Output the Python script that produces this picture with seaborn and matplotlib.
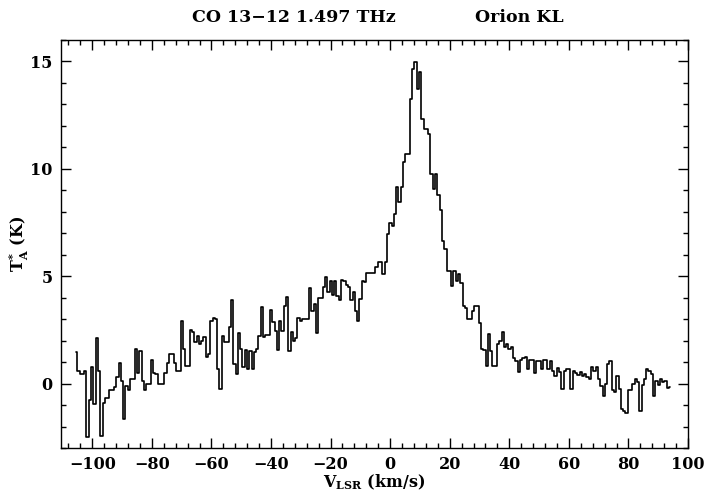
import numpy as np
import pandas as pd
import matplotlib
matplotlib.use("Agg")
import matplotlib.pyplot as plt
from matplotlib.ticker import MultipleLocator
import seaborn as sns

# ---- data ----
v_start = -105.8      # left edge of first channel, km/s
chan_width = 0.77     # km/s

ta_part1 = [1.46, 0.6, 0.45, 0.45, 0.6, -2.5, -0.75, 0.76, -0.93, 2.14,
            0.6, -2.42, -0.9, -0.68, -0.68, -0.3, -0.3, -0.17, 0.3, 0.95,
            0.14, -1.65, -0.1, -0.3, 0.22, 0.22, 1.6, 0.5, 1.5, 0.14,
            -0.3, 0.0, 0.0, 1.1, 0.5, 0.45, 0.0, 0.0, 0.0, 0.5,
            0.95, 1.36, 1.36, 0.95, 0.58, 0.58, 2.9, 1.6, 0.8, 0.8]
ta_part2 = [2.5, 2.39, 1.92, 2.2, 1.85, 2.0, 2.15, 1.26, 1.4, 2.93,
            3.04, 3.0, 0.68, -0.25, 2.2, 1.95, 1.95, 2.65, 3.9, 0.92,
            0.45, 2.36, 1.6, 0.76, 1.55, 0.68, 1.5, 0.68, 1.45, 1.6,
            2.2, 3.55, 2.15, 2.25, 2.25, 3.43, 2.85, 2.47, 1.55, 2.93,
            2.47, 3.63, 4.02, 1.5, 2.4, 2.0, 2.1, 3.06, 2.93, 3.0,
            3.0]
ta_part3 = [3.0, 4.44, 3.4, 3.7, 2.34, 4.0, 4.0, 4.52, 4.95, 4.25,
            4.8, 4.13, 4.76, 4.1, 3.9, 4.83, 4.76, 4.6, 4.52, 3.9,
            4.25, 3.4, 2.9, 3.95, 4.8, 4.73, 5.14, 5.14, 5.14, 5.14,
            5.42, 5.68, 5.68, 5.1, 5.68]
ta_peak = [6.97, 7.5, 7.36, 7.9, 9.14, 8.45, 9.14, 10.3, 10.7, 10.7,
           13.26, 14.66, 14.97, 13.7, 14.5, 12.3, 11.86, 11.86, 11.63, 9.77,
           9.07, 9.77, 8.8, 8.1, 6.66, 6.27, 5.26, 5.26, 4.56, 5.26,
           4.8, 5.1, 4.7]
ta_part4 = [3.6, 3.54, 3.0, 3.0, 3.4, 3.6, 3.6, 2.8, 1.6, 1.55,
            0.84, 2.3, 1.54, 0.84, 0.84, 1.85, 2.0, 2.42, 1.7, 1.85,
            1.6, 1.7, 1.2, 1.05, 0.53, 1.1, 1.2, 1.25, 0.7, 1.1,
            1.1, 0.47, 1.05, 1.05, 0.67, 1.1, 1.12, 0.67, 1.05, 0.6,
            0.33, 0.74, 0.55, -0.25, 0.6, 0.67, 0.7, -0.25, 0.6, 0.5]
ta_part5 = [0.4, 0.55, 0.36, 0.45, 0.3, 0.2, 0.79, 0.6, 0.79, 0.22,
            -0.12, -0.56, 0.0, 0.91, 1.07, -0.3, -0.4, 0.36, -0.25, -1.18,
            -1.26, -1.38, -0.3, -0.3, 0.0, 0.22, 0.07, -1.26, -0.08, 0.22,
            0.68, 0.6, 0.45, -0.56, 0.14, -0.08, 0.22, 0.07, 0.14, -0.2,
            -0.17]

ta = np.array(ta_part1 + ta_part2 + ta_part3 + ta_peak + ta_part4 + ta_part5)
vel = v_start + chan_width * (np.arange(len(ta)) + 0.5)
df = pd.DataFrame({"v": vel, "ta": ta})

x_ticks = [-100, -80, -60, -40, -20, 0, 20, 40, 60, 80, 100]
y_ticks = [0, 5, 10, 15]
title_left = "CO 13\u221212 1.497 THz"
title_right = "Orion KL"

# ---- style ----
sns.set_style("ticks")
plt.rcParams["font.family"] = ["DejaVu Serif"]
plt.rcParams["mathtext.fontset"] = "dejavuserif"
plt.rcParams["axes.unicode_minus"] = True
plt.rcParams["text.color"] = "black"
plt.rcParams["axes.labelcolor"] = "black"
plt.rcParams["xtick.color"] = "black"
plt.rcParams["ytick.color"] = "black"
plt.rcParams["xtick.labelcolor"] = "black"
plt.rcParams["ytick.labelcolor"] = "black"

fig = plt.figure(figsize=(7.2, 4.91), dpi=100)
ax = fig.add_axes([61 / 720, 1 - 448 / 491, (688 - 61) / 720, (448 - 40) / 491])

sns.lineplot(data=df, x="v", y="ta", ax=ax, color="black", linewidth=1.2,
             drawstyle="steps-mid", estimator=None, sort=False)

ax.set_xlim(-110.5, 100)
ax.set_ylim(-3, 16)
ax.set_xticks(x_ticks)
ax.set_yticks(y_ticks)
ax.xaxis.set_minor_locator(MultipleLocator(4))
ax.yaxis.set_minor_locator(MultipleLocator(1))
ax.tick_params(which="both", direction="in", top=True, right=True,
               color="black", labelcolor="black", width=1.0)
ax.tick_params(which="major", length=7, labelsize=11.5, pad=6)
ax.tick_params(which="minor", length=3.5)
for lab in ax.get_xticklabels() + ax.get_yticklabels():
    lab.set_fontweight("bold")
for s in ax.spines.values():
    s.set_visible(True)
    s.set_linewidth(1.0)
    s.set_color("black")

ax.set_xlabel(r"V$_{\mathbf{LSR}}$ (km/s)", fontsize=11.5, fontweight="bold", color="black")
ax.set_ylabel(r"T$_{\mathbf{A}}^{\mathbf{*}}$ (K)", fontsize=11.5, fontweight="bold", color="black")
ax.xaxis.set_label_coords(0.5, -(473 - 448) / 408)
ax.yaxis.set_label_coords(-(61 - 31) / 627, 0.5)

fig.text(192 / 720, 1 - 17 / 491, title_left, ha="left", va="center",
         fontsize=12.5, fontweight="bold", color="black")
fig.text(475 / 720, 1 - 17 / 491, title_right, ha="left", va="center",
         fontsize=12.5, fontweight="bold", color="black")

fig.savefig("out.png", dpi=100, facecolor="white")
